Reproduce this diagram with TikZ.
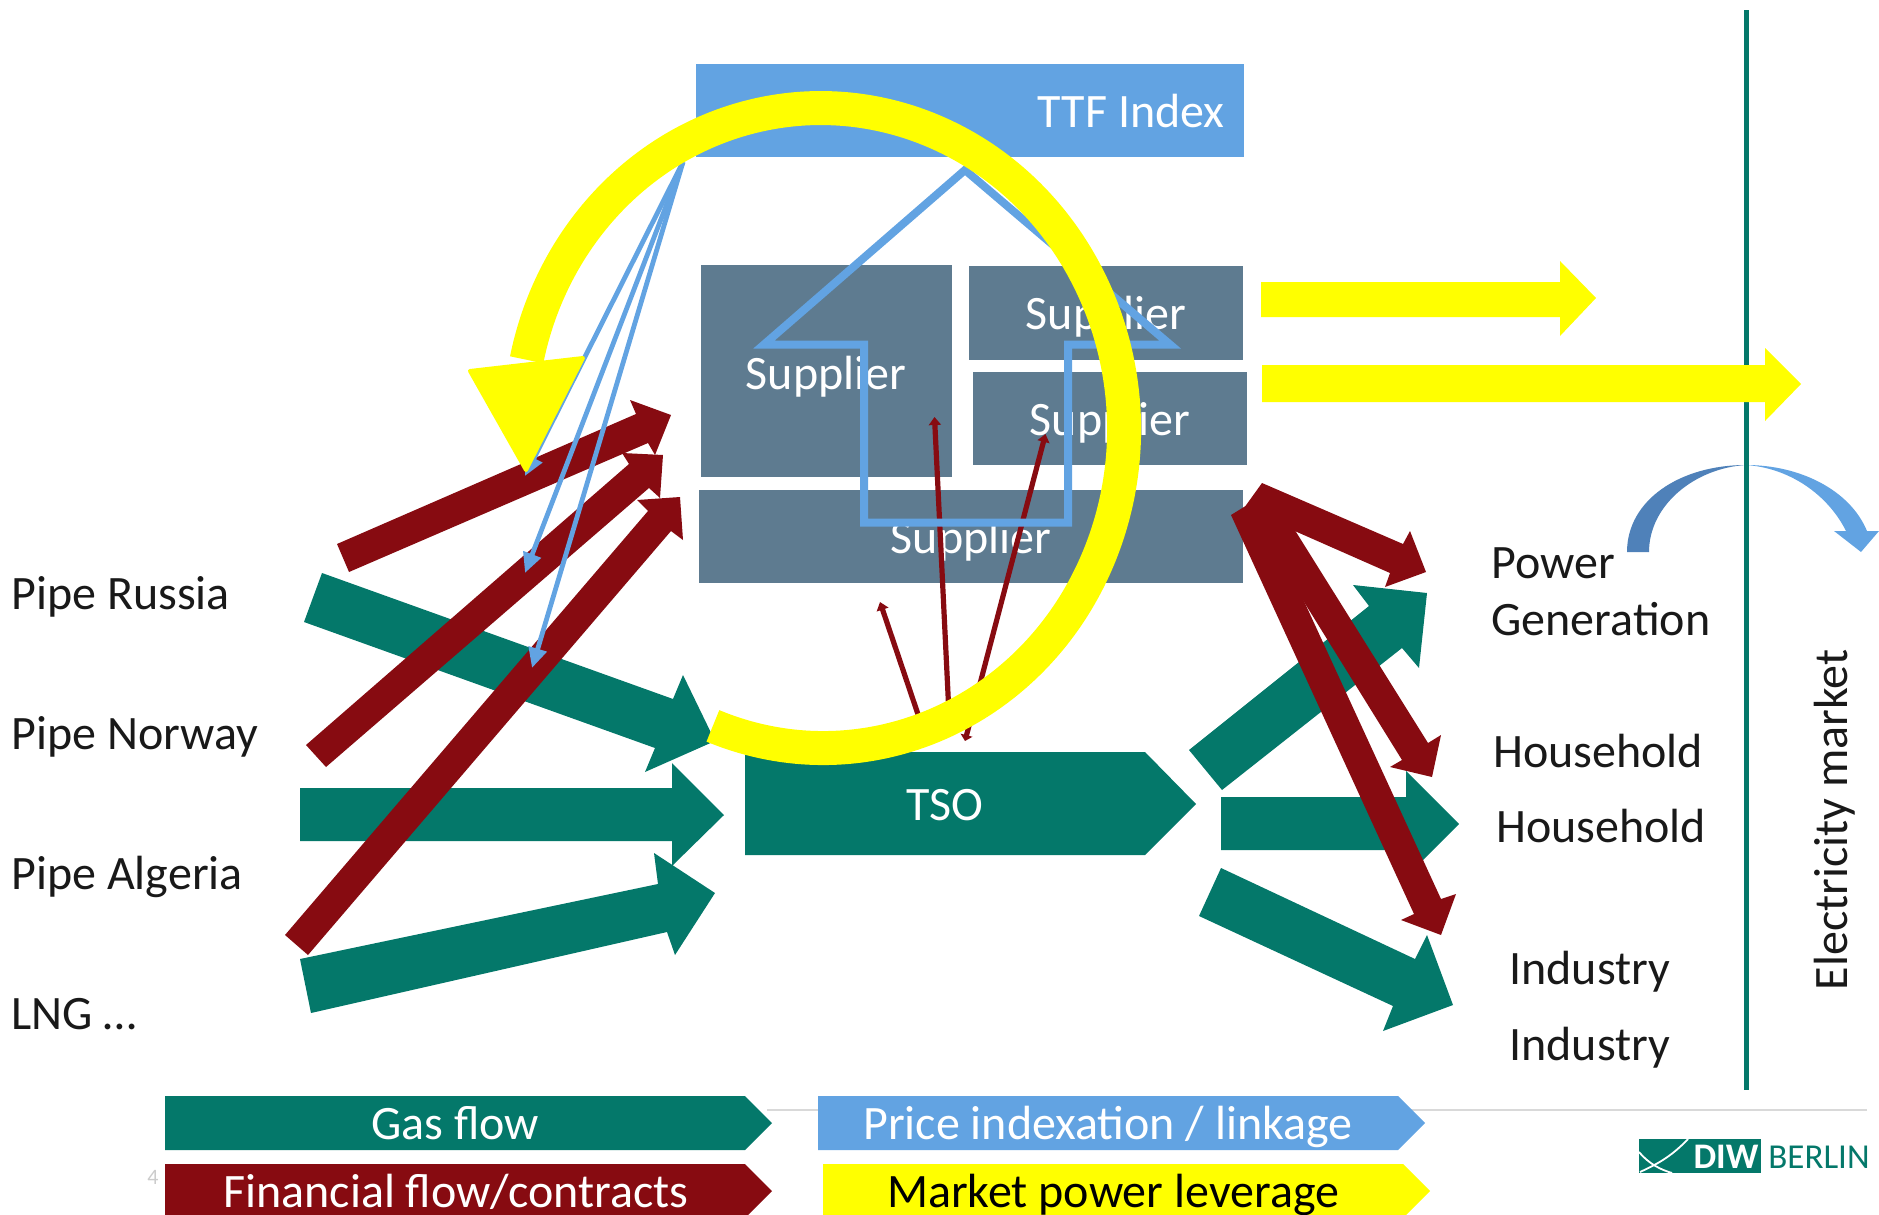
\documentclass[tikz,border=0pt]{standalone}
\usepackage{fontspec}
\usepackage{tikz}
\setmainfont{Carlito}
\usetikzlibrary{arrows.meta}
\definecolor{gasgreen}{HTML}{04786A}
\definecolor{moneyred}{HTML}{870B11}
\definecolor{priceblue}{HTML}{62A3E2}
\definecolor{darkblue}{HTML}{4F81B9}
\definecolor{supplierslate}{HTML}{5E7B90}
\definecolor{leverageyellow}{HTML}{FFFF00}
\tikzset{
    gasflow/.style={fill=gasgreen},
    moneyflow/.style={fill=moneyred},
    leverage/.style={fill=leverageyellow},
    supplierbox/.style={fill=supplierslate},
    pricebox/.style={fill=priceblue},
    label/.style={inner sep=0pt,anchor=base west,font=\fontsize{24}{28}\selectfont,text=black!90},
    whitelabel/.style={inner sep=0pt,text height=15.5pt,text depth=0pt,font=\fontsize{24}{28}\selectfont,text=white},
    thinmoney/.style={moneyred,line width=2.6pt,-{Triangle[width=6pt,length=4pt]}},
    thinprice/.style={priceblue,line width=2.4pt,-{Triangle[width=9pt,length=10pt]}}
}
\begin{document}
\begin{tikzpicture}[x=0.5pt,y=-0.5pt]
    \useasboundingbox (0,0) rectangle (1879,1215);
    \clip (0,0) rectangle (1879,1215);
    \draw[color=black!15,line width=0.7pt] (767,1110) -- (1867,1110);
    % market side
    \fill[darkblue] (1627,552) .. controls (1627,500) and (1680,465) .. (1746,465)
        .. controls (1695,468) and (1649,505) .. (1649,552) -- cycle;
    \fill[pricebox] (1746,465) .. controls (1800,465) and (1850,490) .. (1867,531) -- (1879,531)
        -- (1861,552) -- (1834,531) -- (1846,531) .. controls (1828,495) and (1790,468) .. (1746,465) -- cycle;
    \draw[gasgreen,line width=2.5pt] (1746,10) -- (1746,1090);
    \fill[leverage] (1261,282) -- (1560,282) -- (1560,261) -- (1596,298) -- (1560,336) -- (1560,317) -- (1261,317) -- cycle;
    \fill[leverage] (1262,365) -- (1765,365) -- (1765,348) -- (1801,384) -- (1765,421) -- (1765,402) -- (1262,402) -- cycle;
    % boxes
    \fill[pricebox] (696,64) rectangle (1244,157);
    \node[whitelabel,anchor=east] (ttf) at (1225,112) {TTF Index};
    \fill[supplierbox] (701,265) rectangle (952,477);
    \fill[supplierbox] (969,266) rectangle (1243,360);
    \fill[supplierbox] (973,372) rectangle (1247,465);
    \fill[supplierbox] (699,490) rectangle (1243,583);
    \node[whitelabel] (supplierA) at (826,374) {Supplier};
    \node[whitelabel] (supplierB) at (1106,314) {Supplier};
    \node[whitelabel] (supplierC) at (1110,419.5) {Supplier};
    \node[whitelabel] (supplierD) at (971,538) {Supplier};
    % gas flows
    \fill[gasflow] (322,573) -- (673,699) -- (683,675) -- (715,741) -- (645,772) -- (655,748) -- (304,622) -- cycle;
    \fill[gasflow] (300,788) -- (672,788) -- (672,763) -- (724,815) -- (672,866) -- (672,841) -- (300,841) -- cycle;
    \fill[gasflow] (300,959) -- (658,884) -- (654,853) -- (715,893) -- (675,955) -- (667,932) -- (311,1013) -- cycle;
    \fill[gasflow] (745,752) -- (1145,752) -- (1196,804) -- (1145,855) -- (745,855) -- cycle;
    \node[whitelabel] (tso) at (945,805) {TSO};
    \fill[gasflow] (1189,750) -- (1369,606) -- (1353,585) -- (1427,593) -- (1419,668) -- (1402,648) -- (1222,790) -- cycle;
    \fill[gasflow] (1221,797) -- (1406,797) -- (1406,771) -- (1459,824) -- (1406,877) -- (1406,850) -- (1221,850) -- cycle;
    \fill[gasflow] (1221,868) -- (1415,959) -- (1427,935) -- (1453,1005) -- (1383,1031) -- (1393,1006) -- (1199,916) -- cycle;
    % financial flows
    \fill[moneyflow] (337,544) -- (636,414) -- (630,400) -- (671,415) -- (655,455) -- (648,443) -- (349,572) -- cycle;
    \fill[moneyflow] (306,745) -- (629,464) -- (622,453) -- (663,455) -- (660,498) -- (649,488) -- (326,767) -- cycle;
    \fill[moneyflow] (285,935) -- (648,511) -- (637,500) -- (680,497) -- (683,540) -- (671,531) -- (308,955) -- cycle;
    \fill[moneyflow] (1262,483) -- (1403,544) -- (1410,531) -- (1426,572) -- (1385,587) -- (1390,573) -- (1297,532) -- (1244,508) -- cycle;
    \fill[moneyflow] (1247,510) -- (1402,760) -- (1390,767) -- (1432,777) -- (1441,735) -- (1428,743) -- (1271,492) -- cycle;
    \fill[moneyflow] (1231,515) -- (1414,914) -- (1401,920) -- (1441,935) -- (1456,894) -- (1441,899) -- (1257,499) -- cycle;
    \coordinate (tsoA) at (925,735);
    \coordinate (tsoB) at (950,735);
    \coordinate (tsoC) at (965,741);
    \coordinate (contractA) at (880,602);
    \coordinate (contractB) at (934.5,417);
    \coordinate (contractC) at (1045.5,434);
    \draw[thinmoney] (tsoA) -- (contractA);
    \draw[thinmoney] (tsoB) -- (contractB);
    \draw[{Triangle[width=6pt,length=3pt]}-{Triangle[width=6pt,length=4pt]},moneyred,line width=2.6pt] (tsoC) -- (contractC);
    % price indexation
    \draw[priceblue,line width=4pt,miter limit=12] (965,170) -- (764,344.5) -- (864,344.5) -- (864,522.5)
        -- (1068,522.5) -- (1068,344.5) -- (1170,344.5) -- cycle;
    \coordinate (ttfout) at (683,162);
    \coordinate (pipeA) at (525,476);
    \coordinate (pipeB) at (525,573);
    \coordinate (pipeC) at (532,668);
    \draw[thinprice] (ttfout) -- (pipeA);
    \draw[thinprice] (ttfout) -- (pipeB);
    \draw[thinprice] (ttfout) -- (pipeC);
    % market power
    \begin{scope}[shift={(822,428)},rotate=2]
        \draw[leverageyellow,line width=17pt] (113.3:302 and 320) arc[start angle=113.3,end angle=-165.8,x radius=302,y radius=320];
    \end{scope}
    \filldraw[leverage,draw=leverageyellow,line width=2pt,line join=round] (470,371) -- (583,358) -- (526,470) -- cycle;
    % texts
    \node[label] (russia) at (11,609) {Pipe Russia};
    \node[label] (norway) at (11,749) {Pipe Norway};
    \node[label] (algeria) at (11,889) {Pipe Algeria};
    \node[label] (lng) at (11,1029) {LNG …};
    \node[label] (power) at (1491,578) {Power};
    \node[label] (generation) at (1491,635) {Generation};
    \node[label] (householdA) at (1493,767) {Household};
    \node[label] (householdB) at (1496,842) {Household};
    \node[label] (industryA) at (1509,984) {Industry};
    \node[label] (industryB) at (1509,1060) {Industry};
    \node[label,rotate=90,anchor=center] (electricity) at (1835,820) {Electricity market};
    % legend
    \fill[gasflow] (165,1096) -- (745,1096) -- (772,1123) -- (745,1150) -- (165,1150) -- cycle;
    \node[whitelabel] (legendgas) at (455,1124) {Gas flow};
    \fill[pricebox] (818,1096) -- (1398,1096) -- (1425,1123) -- (1398,1150) -- (818,1150) -- cycle;
    \node[whitelabel] (legendprice) at (1108,1124) {Price indexation / linkage};
    \fill[moneyflow] (165,1164) -- (745,1164) -- (772,1191) -- (745,1218) -- (165,1218) -- cycle;
    \node[whitelabel] (legendmoney) at (456,1192) {Financial flow/contracts};
    \fill[leverage] (823,1164) -- (1403,1164) -- (1430,1191) -- (1403,1218) -- (823,1218) -- cycle;
    \node[whitelabel,text=black] (legendmarket) at (1113,1192) {Market power leverage};
    \node[inner sep=0pt,text=black!20,font=\fontsize{11}{13}\selectfont] (pagenumber) at (153,1177) {4};
    % logo
    \fill[gasflow] (1639,1139) rectangle (1761,1173);
    \draw[white,line width=0.9pt] (1688,1139) .. controls (1670,1158) and (1655,1165) .. (1640,1172);
    \draw[white,line width=0.9pt] (1639,1152) .. controls (1650,1165) and (1662,1170) .. (1672,1173);
    \node[inner sep=0pt,text=white,font=\fontsize{18}{20}\selectfont\bfseries] (diw) at (1726,1157) {DIW};
    \node[inner sep=0pt,anchor=west,text=gasgreen,font=\fontsize{17.5}{20}\selectfont] (berlin) at (1768,1157) {BERLIN};
\end{tikzpicture}
\end{document}
